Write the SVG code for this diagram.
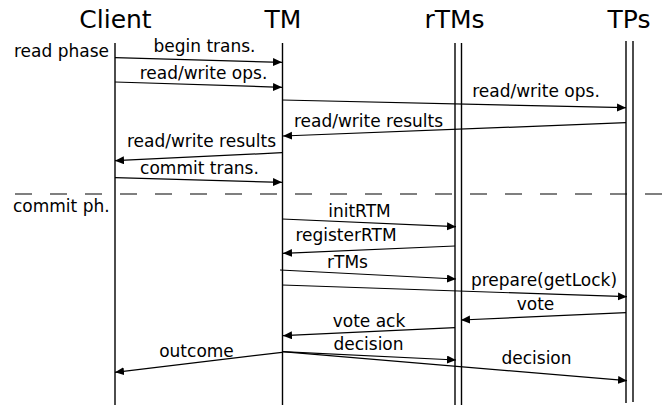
<svg xmlns="http://www.w3.org/2000/svg" width="662" height="405" viewBox="0 0 662 405">
<style>
.hdr{font-family:"DejaVu Sans",sans-serif;font-size:25px;fill:#000;text-anchor:middle}
.lbl{font-family:"DejaVu Sans",sans-serif;font-size:17px;fill:#000;text-anchor:middle}
.side{font-family:"DejaVu Sans",sans-serif;font-size:17px;fill:#000}
.life{stroke:#000;stroke-width:1.4;fill:none}
.msg{stroke:#000;stroke-width:1.2;fill:none;marker-end:url(#ah)}
.dash{stroke:#000;stroke-width:1.2;stroke-dasharray:17 18;fill:none}
</style>
<defs>
<marker id="ah" markerUnits="userSpaceOnUse" markerWidth="10" markerHeight="9" refX="9" refY="4" orient="auto">
<path d="M0,0 L9,4 L0,8 z" fill="#000"/>
</marker>
</defs>
<rect width="662" height="405" fill="#fff"/>
<g id="client">
<text class="hdr" x="115.5" y="28">Client</text>
<line class="life" x1="115" y1="43" x2="115" y2="405"/>
</g>
<g id="tm">
<text class="hdr" x="283" y="28">TM</text>
<line class="life" x1="282.5" y1="43" x2="282.5" y2="405"/>
</g>
<g id="rtms">
<text class="hdr" x="454.5" y="28">rTMs</text>
<line class="life" x1="455" y1="43" x2="455" y2="405"/>
<line class="life" x1="461.5" y1="43" x2="461.5" y2="405"/>
</g>
<g id="tps">
<text class="hdr" x="629" y="28">TPs</text>
<line class="life" x1="626" y1="41" x2="626" y2="403"/>
<line class="life" x1="633" y1="41" x2="633" y2="402"/>
</g>
<g id="phases">
<text class="side" x="14" y="57">read phase</text>
<line class="dash" x1="15" y1="194" x2="662" y2="194"/>
<text class="side" x="13" y="212">commit ph.</text>
</g>
<g id="connectors">
<line class="msg" x1="115" y1="57.7" x2="282" y2="62.3"/>
<line class="msg" x1="115" y1="82" x2="282" y2="87.3"/>
<line class="msg" x1="282" y1="100" x2="626" y2="107.7"/>
<line class="msg" x1="626" y1="122.7" x2="283" y2="136"/>
<line class="msg" x1="282" y1="152.7" x2="115" y2="160.7"/>
<line class="msg" x1="115" y1="177.7" x2="282" y2="182.3"/>
<line class="msg" x1="282" y1="219" x2="456" y2="226.7"/>
<line class="msg" x1="455" y1="246" x2="283" y2="253.3"/>
<line class="msg" x1="280" y1="270" x2="456" y2="279"/>
<line class="msg" x1="282" y1="285" x2="627" y2="296.7"/>
<line class="msg" x1="626" y1="312.7" x2="461" y2="320"/>
<line class="msg" x1="455" y1="327.7" x2="283" y2="335.7"/>
<line class="msg" x1="282" y1="351.7" x2="456" y2="360"/>
<line class="msg" x1="282" y1="351.7" x2="627" y2="380.7"/>
<line class="msg" x1="282" y1="352.3" x2="115" y2="372.3"/>
</g>
<g id="labels">
<text class="lbl" x="204.5" y="52">begin trans.</text>
<text class="lbl" x="203.5" y="79">read/write ops.</text>
<text class="lbl" x="536" y="96.5">read/write ops.</text>
<text class="lbl" x="368.5" y="127">read/write results</text>
<text class="lbl" x="201.5" y="146.5">read/write results</text>
<text class="lbl" x="199.5" y="174">commit trans.</text>
<text class="lbl" x="359.5" y="217">initRTM</text>
<text class="lbl" x="346" y="240.5">registerRTM</text>
<text class="lbl" x="347.5" y="268">rTMs</text>
<text class="lbl" x="544" y="285.5">prepare(getLock)</text>
<text class="lbl" x="535.5" y="310">vote</text>
<text class="lbl" x="369" y="327">vote ack</text>
<text class="lbl" x="368.5" y="350">decision</text>
<text class="lbl" x="536.5" y="364">decision</text>
<text class="lbl" x="196.5" y="356.5">outcome</text>
</g>
</svg>
